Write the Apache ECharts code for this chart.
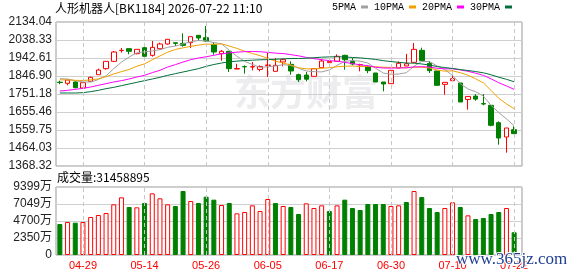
<!DOCTYPE html>
<html>
<head>
<meta charset="utf-8">
<script src="https://cdn.jsdelivr.net/npm/echarts@6.0.0/dist/echarts.min.js"></script>
<style>
html, body { margin: 0; padding: 0; background: #fff; }
#main { width: 578px; height: 276px; }
</style>
</head>
<body>
<div id="main"></div>
<script>
var dates = ['04-24','04-27','04-28','04-29','04-30','05-06','05-07','05-08','05-11','05-12',
  '05-13','05-14','05-15','05-18','05-19','05-20','05-21','05-22','05-25','05-26',
  '05-27','05-28','05-29','06-01','06-02','06-03','06-04','06-05','06-08','06-09',
  '06-10','06-11','06-12','06-15','06-16','06-17','06-18','06-22','06-23','06-24',
  '06-25','06-26','06-29','06-30','07-01','07-02','07-03','07-06','07-07','07-08',
  '07-09','07-10','07-13','07-14','07-15','07-16','07-17','07-20','07-21','07-22'];
var xTicks = ['04-29','05-14','05-26','06-05','06-17','06-30','07-10','07-22'];

var opens = [1814,1808,1815,1783.1,1818.5,1854,1885.9,1924.9,1982,1992.2,
  1965.6,1997.5,1956.8,1992.2,2017,2024.1,2020.5,2024.1,2063.1,2050.7,
  2013.5,1965.6,1978.1,1884,1897,1895,1882,1903,1871.7,1921.3,
  1908.9,1854,1852,1845.1,1891.2,1917.8,1924.9,1956.8,1924.9,1906,
  1898.3,1862.8,1815,1806.1,1889.4,1900,1919.6,1983.4,1914.3,1873.5,
  1802.6,1822.1,1809.7,1722.2,1739.9,1700,1691,1598.8,1522.5,1561.5];
var closes = [1812,1825.6,1784.9,1811.4,1839.8,1878.8,1924.9,1974.5,1983.4,1978.1,
  1988.7,1951.5,1999.3,2017,2041.9,2020.5,2010,2056,2049,2033,
  1974.5,1978.1,1885.9,1886.5,1895.5,1896.5,1897.5,1905.5,1903.6,1933.7,
  1873.5,1827,1830,1885.9,1926.6,1924.9,1951.5,1933.7,1910.7,1907.5,
  1875.3,1815,1804.4,1877,1914.3,1912,1988.7,1928.4,1875.3,1797.3,
  1813.2,1832.7,1708.6,1738.1,1724,1698,1584.6,1517.2,1570.4,1540.3];
var lows = [1803,1797.3,1781,1781.4,1818.5,1854,1880.6,1921.3,1971,1962.1,
  1962.1,1951.5,1949.7,1988.7,2013.5,2006.5,2002.9,1995.8,2034.8,2027.7,
  1960.3,1928.4,1868.2,1884,1859.3,1877,1871.7,1841.6,1871.7,1898,
  1854,1815,1818.5,1845.1,1891.2,1917.8,1924.9,1880.6,1903.6,1871.7,
  1862,1815,1765.4,1806.1,1889.4,1900,1919.6,1928.4,1862.8,1797.3,
  1747.6,1818.5,1708.6,1667.9,1715.1,1691,1579.3,1481.8,1439.2,1540.3];
var highs = [1822,1827,1818.5,1811.4,1843.3,1885.9,1924.9,1979.8,1995.8,1992.2,
  1988.7,2001.1,2033,2024.1,2041.9,2024.1,2073.8,2056,2063.1,2112.8,
  2027.7,1985.2,1980,1912,1903.6,1921.3,1903.6,1969.2,1942.6,1939,
  1924.9,1859.3,1868.2,1885.9,1937.3,1939,1962.1,1960,1942.6,1912,
  1903.6,1862.8,1815,1877,1924.9,1964.7,2022.4,1997.5,1926.6,1873.5,
  1813.2,1877,1809.7,1738.1,1750.6,1750.6,1691,1605.9,1570.4,1579.3];

// 成交量 (股)
var volumes = [42850000,45610000,44690000,45610000,52520000,55280000,58050000,70030000,79700000,66340000,
  65880000,71870000,85230000,78320000,70030000,67720000,88450000,74630000,71870000,80620000,
  76480000,69100000,71870000,57590000,59430000,68640000,60810000,77400000,71870000,67720000,
  66340000,56670000,71410000,64960000,68640000,60810000,68640000,76480000,64960000,62190000,
  70490000,70490000,70490000,67720000,68640000,73250000,88450000,80160000,64960000,59430000,
  64960000,72790000,66340000,54820000,49750000,51140000,56670000,59430000,64960000,31458895];

// 均线开头部分 (窗口前的数据读自图上)
var ma5Head = [1832.7,1830.9,1822.1,1815];
var ma10Head = [1827,1826,1824,1823,1826,1832,1843,1858,1870];
var ma20Head = [1767.1,1770.7,1776,1781.3,1788.4,1797.3,1806.1,1815,1822.1,1831,
  1841.6,1850.4,1864.6,1877,1894.7,1907.2,1921.3,1933.7,1942.6];
var ma30Head = [1756.5,1756.5,1756.5,1758.3,1763.6,1770.7,1779.5,1786.6,1795.5,1804.4,
  1813.2,1822.1,1831,1839.8,1850.4,1859.3,1868.2,1877,1885.9,1898,
  1908,1916,1922,1926,1929,1931,1933,1934,1936];

var priceTicks = ['1368.32','1464.03','1559.75','1655.46','1751.18','1846.90','1942.61','2038.33','2134.04'];
var volTicks = ['0','2350万','4700万','7049万','9399万'];

var priceMin = 1368.32, priceMax = 2134.04, priceStep = (priceMax - priceMin) / 8;
var volMax = 93990000, volStep = volMax / 4;

function movingAvg(n, head) {
  return closes.map(function (c, i) {
    if (i < n - 1) return head[i];
    var s = 0;
    for (var k = i - n + 1; k <= i; k++) s += closes[k];
    return +(s / n).toFixed(2);
  });
}

var font = "'Liberation Sans','Noto Sans CJK SC',sans-serif";
var cjk = "'Noto Sans CJK SC',sans-serif";
var red = '#ff0000', green = '#008000';

var dashLines = {
  silent: true,
  symbol: 'none',
  label: { show: false },
  lineStyle: { color: '#c8c8c8', type: [4, 3], width: 1 },
  data: xTicks.map(function (d) { return { xAxis: d }; })
};

var volData = volumes.map(function (v, i) {
  var up = i === 0 ? closes[0] >= opens[0] : closes[i] >= closes[i - 1];
  return {
    value: v,
    itemStyle: { color: up ? '#fff' : green, borderColor: up ? red : green, borderWidth: 1 }
  };
});

var myChart = echarts.init(document.getElementById('main'));
myChart.setOption({
  animation: false,
  title: {
    text: '人形机器人[BK1184] 2026-07-22 11:10',
    left: 55, top: 2, padding: 0,
    textStyle: { fontSize: 12, fontWeight: 'normal', color: '#000', fontFamily: cjk }
  },
  legend: {
    top: 2, right: 66, padding: 0,
    icon: 'rect', itemWidth: 7, itemHeight: 3, itemGap: 6, align: 'right',
    textStyle: { fontSize: 10, color: '#000', fontFamily: "'Liberation Mono',monospace" },
    data: ['5PMA', '10PMA', '20PMA', '30PMA']
  },
  grid: [
    { left: 56, top: 22, width: 466, height: 144, show: true, borderColor: '#999' },
    { left: 56, top: 22, width: 462, height: 144 },
    { left: 56, top: 187, width: 466, height: 68, show: true, borderColor: '#999' },
    { left: 56, top: 187, width: 462, height: 68 }
  ],
  xAxis: [
    { gridIndex: 0, type: 'value', min: 0, max: 1, show: false },
    { gridIndex: 1, type: 'category', data: dates, show: false },
    { gridIndex: 2, type: 'value', min: 0, max: 1, show: false },
    {
      gridIndex: 3, type: 'category', data: dates,
      axisLine: { show: false }, axisTick: { show: false }, splitLine: { show: false },
      axisLabel: {
        interval: function (i, v) { return xTicks.indexOf(v) >= 0; },
        color: red, fontSize: 11, margin: 5, fontFamily: font
      }
    }
  ],
  yAxis: [
    {
      gridIndex: 0, type: 'value', min: priceMin, max: priceMax, interval: priceStep,
      axisLine: { show: false }, axisTick: { show: false },
      axisLabel: {
        color: '#222', fontSize: 12, margin: 4, fontFamily: font,
        formatter: function (v) { return priceTicks[Math.round((v - priceMin) / priceStep)]; }
      },
      splitLine: { lineStyle: { color: '#cfcfcf' } }
    },
    { gridIndex: 1, type: 'value', min: priceMin, max: priceMax, show: false, splitLine: { show: false } },
    {
      gridIndex: 2, type: 'value', min: 0, max: volMax, interval: volStep,
      axisLine: { show: false }, axisTick: { show: false },
      axisLabel: {
        color: '#222', fontSize: 12, margin: 4, fontFamily: font,
        formatter: function (v) { return volTicks[Math.round(v / volStep)]; }
      },
      splitLine: { lineStyle: { color: '#cfcfcf' } }
    },
    { gridIndex: 3, type: 'value', min: 0, max: volMax, show: false, splitLine: { show: false } }
  ],
  graphic: [
    {
      type: 'text', left: 234, top: 74, z: -1,
      style: { text: '东方财富', fill: 'rgba(215,215,222,0.45)', font: "bold 36px 'Noto Sans CJK SC'" }
    },
    {
      type: 'text', left: 57, top: 171,
      style: { text: '成交量:31458895', fill: '#000', font: "12px 'Noto Sans CJK SC'" }
    },
    {
      type: 'text', left: 455, top: 250, z: 100,
      style: { text: 'www.365jz.com', fill: '#1f3f8f', stroke: '#fff', lineWidth: 2,
        font: "17px 'Liberation Serif'" }
    }
  ],
  series: [
    {
      name: 'K', type: 'candlestick', xAxisIndex: 1, yAxisIndex: 1,
      barWidth: 5,
      data: dates.map(function (d, i) { return [opens[i], closes[i], lows[i], highs[i]]; }),
      itemStyle: { color: '#fff', color0: green, borderColor: red, borderColor0: green, borderWidth: 1 },
      markLine: dashLines
    },
    { name: '5PMA', type: 'line', xAxisIndex: 1, yAxisIndex: 1, data: movingAvg(5, ma5Head),
      symbol: 'none', itemStyle: { color: '#a0a0a0' }, lineStyle: { width: 1, color: '#a0a0a0' } },
    { name: '10PMA', type: 'line', xAxisIndex: 1, yAxisIndex: 1, data: movingAvg(10, ma10Head),
      symbol: 'none', itemStyle: { color: '#f0a000' }, lineStyle: { width: 1, color: '#f0a000' } },
    { name: '20PMA', type: 'line', xAxisIndex: 1, yAxisIndex: 1, data: movingAvg(20, ma20Head),
      symbol: 'none', itemStyle: { color: '#ff00ff' }, lineStyle: { width: 1, color: '#ff00ff' } },
    { name: '30PMA', type: 'line', xAxisIndex: 1, yAxisIndex: 1, data: movingAvg(30, ma30Head),
      symbol: 'none', itemStyle: { color: '#006f3c' }, lineStyle: { width: 1, color: '#006f3c' } },
    {
      name: '成交量', type: 'bar', xAxisIndex: 3, yAxisIndex: 3,
      barWidth: 5, data: volData,
      markLine: dashLines
    }
  ]
});
</script>
</body>
</html>
